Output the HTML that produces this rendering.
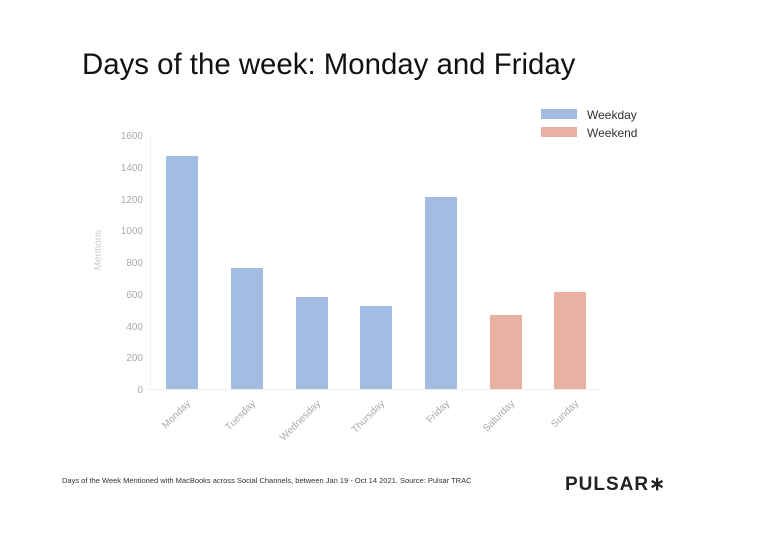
<!DOCTYPE html>
<html><head><meta charset="utf-8"><style>
body{margin:0;background:#fff;width:768px;height:537px;overflow:hidden;font-family:"Liberation Sans",sans-serif}
</style></head><body>
<svg width="768" height="537" xmlns="http://www.w3.org/2000/svg" font-family="Liberation Sans, sans-serif">
<text x="82" y="74" font-size="29.4" fill="#111">Days of the week: Monday and Friday</text>
<rect x="541" y="109" width="36" height="10" fill="#a3bde2"/>
<text x="587" y="119" font-size="12" fill="#333">Weekday</text>
<rect x="541" y="127" width="36" height="10" fill="#eab1a2"/>
<text x="587" y="137" font-size="12" fill="#333">Weekend</text>
<g stroke="#eee" stroke-width="1"><line x1="150.5" y1="135" x2="150.5" y2="389"/><line x1="148" y1="389.5" x2="602" y2="389.5"/></g>
<g font-size="10" fill="#aaa" text-anchor="end">
<text x="143" y="393">0</text><text x="143" y="361">200</text><text x="143" y="330">400</text><text x="143" y="298">600</text><text x="143" y="266">800</text><text x="143" y="234">1000</text><text x="143" y="203">1200</text><text x="143" y="171">1400</text><text x="143" y="139">1600</text>
</g>
<text transform="translate(101,250) rotate(-90)" font-size="10" fill="#ccc" text-anchor="middle">Mentions</text>
<g>
<rect x="166" y="156" width="32" height="233" fill="#a3bde2"/>
<rect x="231" y="268" width="32" height="121" fill="#a3bde2"/>
<rect x="296" y="297" width="32" height="92" fill="#a3bde2"/>
<rect x="360" y="306" width="32" height="83" fill="#a3bde2"/>
<rect x="425" y="197" width="32" height="192" fill="#a3bde2"/>
<rect x="490" y="315" width="32" height="74" fill="#eab1a2"/>
<rect x="554" y="292" width="32" height="97" fill="#eab1a2"/>
</g>
<g font-size="10" fill="#aaa" text-anchor="end">
<text transform="translate(191,404) rotate(-45)">Monday</text>
<text transform="translate(256,404) rotate(-45)">Tuesday</text>
<text transform="translate(321,404) rotate(-45)">Wednesday</text>
<text transform="translate(385,404) rotate(-45)">Thursday</text>
<text transform="translate(450,404) rotate(-45)">Friday</text>
<text transform="translate(515,404) rotate(-45)">Saturday</text>
<text transform="translate(579,404) rotate(-45)">Sunday</text>
</g>
<text x="62" y="483" font-size="7.5" fill="#333">Days of the Week Mentioned with MacBooks across Social Channels, between Jan 19 - Oct 14 2021. Source: Pulsar TRAC</text>
<text x="565" y="490" font-size="19" fill="#222" font-weight="bold" letter-spacing="1">PULSAR∗</text>
</svg>
</body></html>
